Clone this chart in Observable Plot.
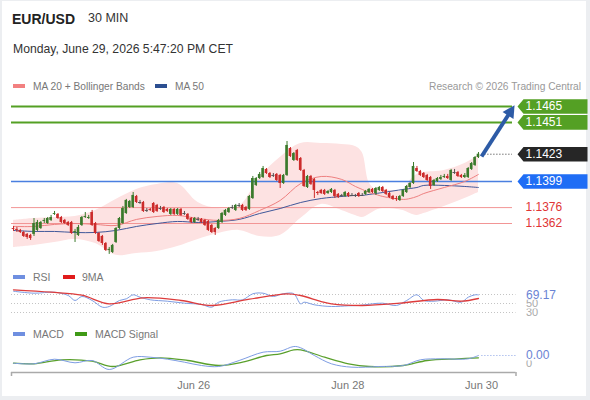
<!DOCTYPE html>
<html>
<head>
<meta charset="utf-8">
<script src="https://cdn.jsdelivr.net/npm/d3@7"></script>
<script src="https://cdn.jsdelivr.net/npm/@observablehq/plot@0.6"></script>
<style>
  html, body { margin: 0; padding: 0; background: #fff; }
  #chart { position: relative; width: 590px; height: 400px; overflow: hidden; background: #eceef1; font-family: "Liberation Sans", Arial, sans-serif; }
  #inner { position: absolute; left: 2px; top: 1px; width: 584px; height: 395px; background: #fff; }
  .t { position: absolute; line-height: 1; white-space: nowrap; }
  .sw { position: absolute; height: 4px; width: 12px; }
  #chart svg { position: absolute; left: 0; }
</style>
</head>
<body>
<div id="chart">
  <div id="inner"></div>
  <div class="t" style="left:12px;top:12px;font-size:14px;font-weight:bold;color:#222">EUR/USD</div>
  <div class="t" style="left:88px;top:12px;font-size:12.5px;color:#333">30 MIN</div>
  <div class="t" style="left:13px;top:42.5px;font-size:12.2px;color:#333">Monday, June 29, 2026 5:47:20 PM CET</div>
  <div class="sw" style="left:13px;top:84px;background:#f28080"></div>
  <div class="t" style="left:33px;top:81.5px;font-size:10.2px;color:#777">MA 20 + Bollinger Bands</div>
  <div class="sw" style="left:155px;top:84px;background:#2c4f91"></div>
  <div class="t" style="left:175px;top:81.5px;font-size:10.2px;color:#777">MA 50</div>
  <div class="t" style="right:9px;top:81.5px;font-size:10.2px;color:#999">Research © 2026 Trading Central</div>
  <div class="sw" style="left:13px;top:275px;background:#6f8fe0"></div>
  <div class="t" style="left:33px;top:271.5px;font-size:10.5px;color:#777">RSI</div>
  <div class="sw" style="left:63px;top:275px;background:#e01b1b"></div>
  <div class="t" style="left:82px;top:271.5px;font-size:10.5px;color:#777">9MA</div>
  <div class="sw" style="left:13px;top:332px;background:#6f8fe0"></div>
  <div class="t" style="left:33px;top:328.5px;font-size:10.5px;color:#777">MACD</div>
  <div class="sw" style="left:75px;top:332px;background:#3f9a16"></div>
  <div class="t" style="left:95px;top:328.5px;font-size:10.5px;color:#777">MACD Signal</div>
</div>
<script>
// ---------- DATA ----------
const open = [
1.13576,1.13568,1.13559,1.13541,1.13524,1.13515,1.13524,1.13559,1.13576,1.13638,
1.13620,1.13647,1.13700,1.13700,1.13673,1.13647,1.13629,1.13629,1.13541,1.13515,
1.13603,1.13673,1.13664,1.13717,1.13620,1.13532,1.13506,1.13444,1.13383,1.13365,
1.13453,1.13576,1.13620,1.13708,1.13761,1.13761,1.13858,1.13805,1.13805,1.13735,
1.13744,1.13796,1.13779,1.13752,1.13761,1.13744,1.13700,1.13744,1.13700,1.13744,
1.13708,1.13700,1.13664,1.13629,1.13656,1.13656,1.13647,1.13638,1.13603,1.13576,
1.13576,1.13629,1.13691,1.13717,1.13761,1.13735,1.13779,1.13779,1.13761,1.13744,
1.13840,1.13955,1.14016,1.14025,1.14096,1.14060,1.14043,1.14052,1.14043,1.13972,
1.14043,1.14280,1.14175,1.14263,1.14192,1.14087,1.13937,1.14034,1.14008,1.13893,
1.13911,1.13911,1.13884,1.13893,1.13911,1.13876,1.13867,1.13858,1.13884,1.13867,
1.13867,1.13884,1.13867,1.13876,1.13893,1.13920,1.13884,1.13911,1.13937,1.13911,
1.13884,1.13858,1.13840,1.13823,1.13858,1.13893,1.13937,1.13972,1.14104,1.14078,
1.14060,1.14043,1.14025,1.13955,1.13990,1.14008,1.14025,1.14034,1.13999,1.14069,
1.14069,1.14043,1.14025,1.14025,1.14096,1.14131,1.14201];
const close = [
1.13568,1.13559,1.13541,1.13506,1.13497,1.13488,1.13620,1.13629,1.13629,1.13647,
1.13664,1.13673,1.13708,1.13664,1.13629,1.13620,1.13603,1.13532,1.13550,1.13585,
1.13673,1.13682,1.13673,1.13603,1.13532,1.13462,1.13444,1.13383,1.13392,1.13427,
1.13576,1.13664,1.13752,1.13823,1.13814,1.13867,1.13805,1.13805,1.13726,1.13735,
1.13735,1.13717,1.13726,1.13752,1.13717,1.13726,1.13744,1.13700,1.13744,1.13691,
1.13708,1.13656,1.13629,1.13664,1.13656,1.13629,1.13603,1.13559,1.13541,1.13541,
1.13647,1.13708,1.13735,1.13752,1.13761,1.13779,1.13779,1.13735,1.13735,1.13858,
1.14016,1.14016,1.14052,1.14104,1.14060,1.14025,1.14043,1.13999,1.13972,1.14043,
1.14307,1.14210,1.14236,1.14175,1.14087,1.13946,1.14034,1.13964,1.13911,1.13884,
1.13884,1.13876,1.13902,1.13920,1.13858,1.13849,1.13867,1.13893,1.13858,1.13867,
1.13867,1.13858,1.13867,1.13902,1.13920,1.13893,1.13928,1.13937,1.13902,1.13876,
1.13849,1.13832,1.13832,1.13858,1.13911,1.13946,1.13972,1.14122,1.14078,1.14043,
1.14025,1.13999,1.13946,1.13999,1.14016,1.14025,1.14034,1.14016,1.14087,1.14069,
1.14034,1.14025,1.14043,1.14104,1.14148,1.14201,1.14230];
const high = [
1.13594,1.13585,1.13568,1.13550,1.13532,1.13524,1.13664,1.13647,1.13638,1.13664,
1.13673,1.13691,1.13726,1.13708,1.13682,1.13656,1.13638,1.13638,1.13568,1.13603,
1.13682,1.13717,1.13691,1.13735,1.13629,1.13541,1.13515,1.13453,1.13409,1.13436,
1.13585,1.13673,1.13770,1.13832,1.13823,1.13893,1.13867,1.13823,1.13814,1.13752,
1.13752,1.13805,1.13788,1.13770,1.13770,1.13752,1.13752,1.13752,1.13752,1.13752,
1.13726,1.13708,1.13673,1.13673,1.13673,1.13664,1.13656,1.13647,1.13612,1.13585,
1.13656,1.13717,1.13744,1.13761,1.13779,1.13788,1.13796,1.13788,1.13770,1.13867,
1.14034,1.14025,1.14069,1.14122,1.14104,1.14069,1.14060,1.14060,1.14052,1.14052,
1.14342,1.14289,1.14245,1.14272,1.14201,1.14096,1.14043,1.14043,1.14016,1.13902,
1.13920,1.13920,1.13911,1.13928,1.13920,1.13884,1.13876,1.13902,1.13893,1.13884,
1.13876,1.13893,1.13884,1.13911,1.13928,1.13928,1.13937,1.13946,1.13946,1.13920,
1.13893,1.13867,1.13858,1.13867,1.13920,1.13955,1.13981,1.14157,1.14122,1.14087,
1.14069,1.14052,1.14034,1.14008,1.14025,1.14043,1.14052,1.14052,1.14096,1.14096,
1.14078,1.14052,1.14060,1.14113,1.14157,1.14210,1.14245];
const low = [
1.13550,1.13541,1.13532,1.13497,1.13480,1.13471,1.13506,1.13550,1.13568,1.13620,
1.13612,1.13638,1.13691,1.13656,1.13620,1.13612,1.13594,1.13524,1.13453,1.13506,
1.13594,1.13664,1.13656,1.13594,1.13524,1.13453,1.13427,1.13374,1.13348,1.13356,
1.13444,1.13568,1.13612,1.13700,1.13752,1.13752,1.13796,1.13788,1.13717,1.13717,
1.13726,1.13708,1.13717,1.13735,1.13708,1.13717,1.13691,1.13691,1.13691,1.13682,
1.13691,1.13647,1.13620,1.13620,1.13638,1.13620,1.13594,1.13550,1.13532,1.13515,
1.13568,1.13620,1.13682,1.13708,1.13744,1.13726,1.13761,1.13726,1.13726,1.13735,
1.13832,1.13946,1.14008,1.14016,1.14052,1.14016,1.14025,1.13990,1.13928,1.13964,
1.14034,1.14201,1.14166,1.14166,1.14078,1.13937,1.13928,1.13955,1.13840,1.13867,
1.13876,1.13867,1.13876,1.13884,1.13840,1.13840,1.13849,1.13849,1.13849,1.13858,
1.13849,1.13849,1.13858,1.13867,1.13884,1.13884,1.13867,1.13902,1.13893,1.13867,
1.13840,1.13823,1.13814,1.13814,1.13849,1.13884,1.13928,1.13964,1.14069,1.14034,
1.14016,1.13990,1.13920,1.13946,1.13981,1.13999,1.14016,1.14008,1.13990,1.14052,
1.14025,1.14016,1.14016,1.14016,1.14087,1.14122,1.14192];

// Bollinger bands / moving averages, read at these candle indices
const bandIdx = [0,6,12,18,24,30,36,42,48,54,60,66,72,78,84,90,96,100,102,104,106,108,114,116,118,120,126,132,136];
const upper = [1.13647,1.13664,1.13673,1.13682,1.13735,1.13832,1.13920,1.13964,1.13972,1.13805,1.13752,1.13770,1.14025,1.14201,1.14324,1.14324,1.14316,1.14298,1.14245,1.13981,1.13920,1.13920,1.13911,1.13999,1.14052,1.14069,1.14087,1.14148,1.14219];
const lower = [1.13409,1.13427,1.13453,1.13480,1.13444,1.13340,1.13356,1.13374,1.13418,1.13480,1.13532,1.13559,1.13506,1.13515,1.13664,1.13788,1.13735,1.13691,1.13673,1.13700,1.13735,1.13752,1.13735,1.13708,1.13691,1.13708,1.13770,1.13840,1.13893];
const ma20 = [1.13594,1.13594,1.13612,1.13620,1.13612,1.13603,1.13656,1.13682,1.13691,1.13664,1.13647,1.13664,1.13735,1.13823,1.13972,1.14034,1.14008,1.13946,1.13920,1.13893,1.13876,1.13858,1.13832,1.13840,1.13858,1.13884,1.13937,1.13990,1.14052];
const ma50 = [1.13559,1.13550,1.13550,1.13541,1.13541,1.13559,1.13594,1.13620,1.13638,1.13629,1.13638,1.13656,1.13708,1.13752,1.13805,1.13840,1.13858,1.13867,1.13867,1.13876,1.13884,1.13893,1.13920,1.13928,1.13937,1.13955,1.13955,1.13946,1.13937];

// Key levels
const levels = [1.1465, 1.1451, 1.1423, 1.1399, 1.1376, 1.1362];

// RSI and its 9-period MA
const rsiIdx = [0,6,12,16,18,20,23,26,28,31,33,35,37,40,45,50,55,58,60,64,67,70,73,76,78,80,82,84,85,88,93,98,101,105,108,112,115,118,120,123,127,131,133,135,136];
const rsiVal = [77.3,72.9,75.1,67.8,56.7,65.6,56.7,41.8,43.3,56.7,60.4,69.3,64.0,58.2,55.1,50.7,47.8,41.8,52.9,58.2,58.2,71.6,72.9,65.6,70.0,72.9,71.6,49.3,52.9,47.1,43.3,44.9,45.6,49.3,50.7,45.6,56.7,69.3,56.7,55.1,58.2,52.9,64.0,69.3,69.17];
const rsiMaIdx = [0,11,20,28,38,49,58,69,80,84,90,93,102,113,124,131,136];
const rsiMaVal = [80.4,75.1,68.4,49.3,62.7,56.7,45.6,59.6,71.6,67.8,54.4,49.3,45.6,50.7,58.9,55.1,61.1];
const rsiGrid = [70, 50, 30];

// MACD and signal
const macdIdx = [0,6,12,18,23,28,35,40,45,50,55,60,66,73,78,82,84,88,93,99,107,114,119,125,133,136];
const macdVal = [0.000015,-0.000015,0.000215,0.000035,0.00015,-0.0003,0.000315,0.000315,0.000215,0.000065,-0.0001,-0.00015,0.00015,0.000565,0.000615,0.00085,0.000785,0.0004,-0.000015,-0.000185,-0.00015,-0.0001,0.000185,0.000235,0.000235,0.0004];
const sigIdx = [0,6,14,23,29,37,43,51,60,67,74,78,82,84,91,98,104,114,121,130,136];
const sigVal = [0.000015,-0.000015,0.000185,0.000115,-0.00015,0.000185,0.000285,0.00015,-0.0001,0.000065,0.0004,0.000485,0.000685,0.000685,0.000315,-0.000015,-0.00015,-0.0001,0.00015,0.000235,0.000285];

// Time axis
const tickIdx = [52.7, 97.8, 136.9];
const tickLabels = ["Jun 26", "Jun 28", "Jun 30"];

// ---------- LAYOUT ----------
const step = 3.419, xFirst = 13, xLeft = 11, xRight = 515.5;
const pxPerPrice = 11360;
const xDom = [(xLeft - xFirst) / step, (xRight - xFirst) / step];
const xLineEnd = (512 - xFirst) / step;
const font = '"Liberation Sans", Arial, sans-serif';
const baseStyle = {background: "transparent", fontFamily: font, fontSize: "12px", overflow: "visible"};
const GREEN = "#3b7a2c", RED = "#cc2b2b", DOJI = "#555", ARROW = "#2d5ba6";
const xScale = {domain: xDom, range: [xLeft, xRight], axis: null, label: null};

const N = close.length;
const candles = close.map((c, i) => ({i, o: open[i], h: high[i], l: low[i], c}));
const up = candles.filter(d => d.c > d.o);
const down = candles.filter(d => d.c < d.o);
const flat = candles.filter(d => d.c === d.o);
const bands = bandIdx.map((i, k) => ({i, upper: upper[k], lower: lower[k], ma20: ma20[k], ma50: ma50[k]}));

const tagSymbol = {draw(ctx) {
  ctx.moveTo(5, 0); ctx.lineTo(11, -7.3); ctx.lineTo(75, -7.3);
  ctx.lineTo(75, 7.3); ctx.lineTo(11, 7.3); ctx.closePath();
}};
const bgSymbol = {draw(ctx) {
  ctx.moveTo(7, -5); ctx.lineTo(48, -5); ctx.lineTo(48, 5); ctx.lineTo(7, 5); ctx.closePath();
}};

// arrow from the last candle towards the first target level
const arrowStart = {x: N - 0.1, y: close[N - 1] - 0.0002};
const arrowEnd = {x: xLineEnd + 0.6, y: levels[0] + 0.0001};
const adx = (arrowEnd.x - arrowStart.x) * step, ady = -(arrowEnd.y - arrowStart.y) * pxPerPrice;
const alen = Math.hypot(adx, ady), ux = adx / alen, uy = ady / alen, px = -uy, py = ux;
const headLen = 12, headHalf = 6.5;
const headSymbol = {draw(ctx) {
  ctx.moveTo(0, 0);
  ctx.lineTo(-ux * headLen + px * headHalf, -uy * headLen + py * headHalf);
  ctx.lineTo(-ux * headLen - px * headHalf, -uy * headLen - py * headHalf);
  ctx.closePath();
}};
const shaftEnd = {x: arrowEnd.x - ux * (headLen - 2) / step, y: arrowEnd.y + uy * (headLen - 2) / pxPerPrice};
const shaft = [{x1: arrowStart.x, y1: arrowStart.y, x2: shaftEnd.x, y2: shaftEnd.y}];

const tagText = (data, fill) => Plot.text(data, {x: xLineEnd, y: d => d, text: d => d.toFixed(4), dx: 13, textAnchor: "start", fill, fontSize: 12});

const pricePlot = Plot.plot({
  width: 590, height: 170, marginTop: 0, marginRight: 0, marginBottom: 0, marginLeft: 0,
  x: xScale,
  y: {domain: [levels[0], levels[5]], range: [11, 128], axis: null},
  style: baseStyle,
  marks: [
    Plot.areaY(bands, {x: "i", y1: "lower", y2: "upper", fill: "#fde2e2", curve: "catmull-rom"}),
    Plot.ruleY([levels[0], levels[1]], {y: d => d, x1: xDom[0], x2: xLineEnd, stroke: "#54a024", strokeWidth: 2}),
    Plot.ruleY([levels[3]], {y: d => d, x1: xDom[0], x2: xLineEnd, stroke: "#4a7fe0", strokeWidth: 1.5}),
    Plot.ruleY([levels[4], levels[5]], {y: d => d, x1: xDom[0], x2: xLineEnd, stroke: "#f29595", strokeWidth: 1}),
    Plot.lineY(bands, {x: "i", y: "ma50", stroke: "#40589a", strokeWidth: 1, curve: "catmull-rom"}),
    Plot.lineY(bands, {x: "i", y: "ma20", stroke: "#ee8080", strokeWidth: 1, curve: "catmull-rom"}),
    Plot.ruleX(up, {x: "i", y1: "l", y2: "h", stroke: GREEN}),
    Plot.ruleX(down, {x: "i", y1: "l", y2: "h", stroke: RED}),
    Plot.ruleX(flat, {x: "i", y1: "l", y2: "h", stroke: DOJI}),
    Plot.rect(up, {x1: d => d.i - 0.38, x2: d => d.i + 0.38, y1: "o", y2: "c", fill: GREEN}),
    Plot.rect(down, {x1: d => d.i - 0.38, x2: d => d.i + 0.38, y1: "o", y2: "c", fill: RED}),
    Plot.ruleY(flat, {y: "c", x1: d => d.i - 0.45, x2: d => d.i + 0.45, stroke: DOJI}),
    Plot.ruleY([levels[2]], {y: d => d, x1: N, x2: xLineEnd, stroke: "#333", strokeDasharray: "1,2"}),
    Plot.link(shaft, {x1: "x1", y1: "y1", x2: "x2", y2: "y2", stroke: ARROW, strokeWidth: 4}),
    Plot.dot([arrowEnd], {x: "x", y: "y", symbol: headSymbol, fill: ARROW, stroke: "none"}),
    Plot.dot([levels[0], levels[1]], {x: xLineEnd, y: d => d, symbol: tagSymbol, fill: "#54a024", stroke: "none"}),
    Plot.dot([levels[2]], {x: xLineEnd, y: d => d, symbol: tagSymbol, fill: "#262626", stroke: "none"}),
    Plot.dot([levels[3]], {x: xLineEnd, y: d => d, symbol: tagSymbol, fill: "#1f6df5", stroke: "none"}),
    tagText(levels.slice(0, 4), "#fff"),
    tagText(levels.slice(4), "#e03535")
  ]
});
pricePlot.style.top = "95px";

const rsiRows = rsiIdx.map((i, k) => ({i, v: rsiVal[k]}));
const rsiMaRows = rsiMaIdx.map((i, k) => ({i, v: rsiMaVal[k]}));
const rsiLast = rsiVal[rsiVal.length - 1];
const rsiPlot = Plot.plot({
  width: 590, height: 35, marginTop: 0, marginRight: 0, marginBottom: 0, marginLeft: 0,
  x: xScale,
  y: {domain: [70, 30], range: [11, 29], axis: null},
  style: baseStyle,
  marks: [
    Plot.ruleY(rsiGrid, {y: d => d, x1: xDom[0], x2: xDom[1], stroke: "#c4c4c4", strokeDasharray: "1,2"}),
    Plot.lineY(rsiRows, {x: "i", y: "v", stroke: "#7e9de3", strokeWidth: 1, curve: "catmull-rom"}),
    Plot.lineY(rsiMaRows, {x: "i", y: "v", stroke: "#dd3c3c", strokeWidth: 1.3, curve: "catmull-rom"}),
    Plot.text([rsiGrid[2]], {x: xDom[1], y: d => d, text: d => String(d), dx: 10, textAnchor: "start", fill: "#aaa", fontSize: 11}),
    Plot.dot([rsiGrid[1]], {x: xDom[1], y: d => d, symbol: bgSymbol, fill: "#fff", stroke: "none"}),
    Plot.text([rsiGrid[1]], {x: xDom[1], y: d => d, text: d => String(d), dx: 10, textAnchor: "start", fill: "#aaa", fontSize: 11}),
    Plot.dot([rsiLast], {x: xDom[1], y: d => d, symbol: bgSymbol, fill: "#fff", stroke: "none"}),
    Plot.text([rsiLast], {x: xDom[1], y: d => d, text: d => d.toFixed(2), dx: 10, textAnchor: "start", fill: "#6a83d4", fontSize: 12})
  ]
});
rsiPlot.style.top = "283px";

const macdDom = [0, 0.0008], macdRange = [25, 9];
const macdY = d3.scaleLinear(macdDom, macdRange);
const axisV = macdY.invert(34), axisTickV = macdY.invert(38);
const macdRows = macdIdx.map((i, k) => ({i, v: macdVal[k]}));
const sigRows = sigIdx.map((i, k) => ({i, v: sigVal[k]}));
const macdLast = macdVal[macdVal.length - 1];
const macdPlot = Plot.plot({
  width: 590, height: 62, marginTop: 0, marginRight: 0, marginBottom: 28, marginLeft: 0,
  x: xScale,
  y: {domain: macdDom, range: macdRange, axis: null},
  style: baseStyle,
  marks: [
    Plot.ruleY([macdLast], {y: d => d, x1: N, x2: xDom[1], stroke: "#8aa3e6", strokeDasharray: "1,2"}),
    Plot.lineY(sigRows, {x: "i", y: "v", stroke: "#5aa02c", strokeWidth: 1.3, curve: "catmull-rom"}),
    Plot.lineY(macdRows, {x: "i", y: "v", stroke: "#7e9de3", strokeWidth: 1, curve: "catmull-rom"}),
    Plot.text([0], {x: xDom[1], y: d => d, text: d => String(d), dx: 10, textAnchor: "start", fill: "#aaa", fontSize: 11}),
    Plot.dot([macdLast], {x: xDom[1], y: d => d, symbol: bgSymbol, fill: "#fff", stroke: "none"}),
    Plot.text([macdLast], {x: xDom[1], y: d => d, text: d => d.toFixed(2), dx: 10, textAnchor: "start", fill: "#6a83d4", fontSize: 12}),
    Plot.ruleY([axisV], {y: d => d, x1: xDom[0], x2: xDom[1], stroke: "#aaa", strokeWidth: 1.5}),
    Plot.ruleX([xDom[0], xDom[1]], {x: d => d, y1: axisV, y2: axisTickV, stroke: "#aaa", strokeWidth: 1.5}),
    Plot.axisX(tickIdx, {tickSize: 0, tickPadding: 9, tickFormat: d => tickLabels[tickIdx.indexOf(d)], color: "#777", fontSize: 11, label: null})
  ]
});
macdPlot.style.top = "338px";

const chart = document.getElementById("chart");
chart.appendChild(pricePlot);
chart.appendChild(rsiPlot);
chart.appendChild(macdPlot);
</script>
</body>
</html>
